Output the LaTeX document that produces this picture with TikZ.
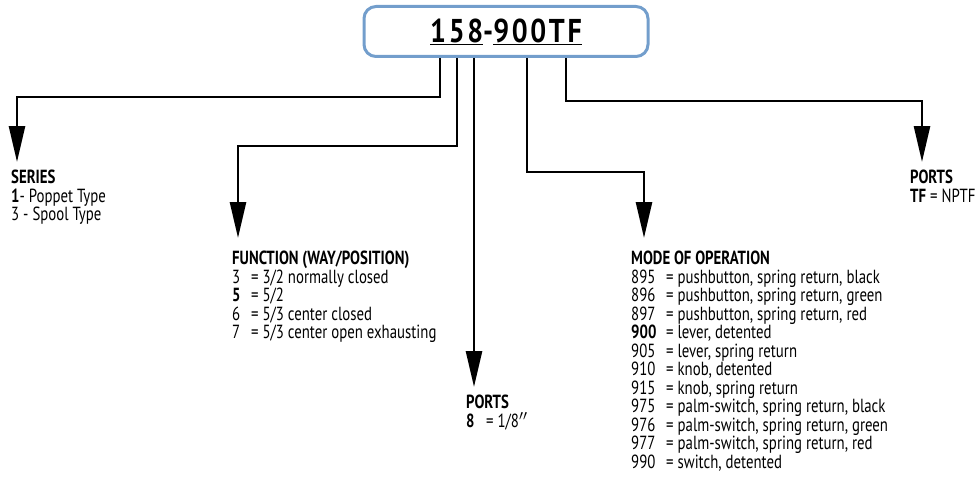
\documentclass[tikz,border=0pt]{standalone}
\usepackage{fontspec}
\setmainfont{PT Sans}[FakeStretch=0.78]
\newfontfamily\titlefont{PT Sans}[FakeStretch=0.85,LetterSpace=8]
\usetikzlibrary{arrows.meta}
\definecolor{boxblue}{RGB}{115,158,204}
\newcommand{\entry}[3]{\makebox[#1][l]{#2}= #3}

\begin{document}
\begin{tikzpicture}[x=1pt,y=-1pt,
  conn/.style={line width=2.6pt,-{Triangle[width=16pt,length=36pt]}},
  lbl/.style={anchor=north west,inner sep=0pt,align=left,font=\fontsize{19}{18.5}\selectfont}]
\useasboundingbox (0,0) rectangle (975,487);
% part number
\node[draw=boxblue,line width=3pt,rounded corners=12pt,minimum width=284pt,minimum height=50pt,
  font=\titlefont\bfseries\fontsize{33}{33}\selectfont] (title) at (506,31.5)
  {\underline{158}-\underline{900TF}};
% labels
\node[lbl] (series) at (11,170) {\textbf{SERIES}\\\textbf{1}- Poppet Type\\3 - Spool Type};
\node[lbl] (func) at (232,251) {\textbf{FUNCTION (WAY/POSITION)}\\
  \entry{19pt}{3}{3/2 normally closed}\\
  \entry{19pt}{\textbf{5}}{5/2}\\
  \entry{19pt}{6}{5/3 center closed}\\
  \entry{19pt}{7}{5/3 center open exhausting}};
\node[lbl] (portsA) at (466,395) {\textbf{PORTS}\\\entry{20pt}{\textbf{8}}{1/8$''$}};
\node[lbl] (mode) at (631,251) {\textbf{MODE OF OPERATION}\\
  \entry{35pt}{895}{pushbutton, spring return, black}\\
  \entry{35pt}{896}{pushbutton, spring return, green}\\
  \entry{35pt}{897}{pushbutton, spring return, red}\\
  \entry{35pt}{\textbf{900}}{lever, detented}\\
  \entry{35pt}{905}{lever, spring return}\\
  \entry{35pt}{910}{knob, detented}\\
  \entry{35pt}{915}{knob, spring return}\\
  \entry{35pt}{975}{palm-switch, spring return, black}\\
  \entry{35pt}{976}{palm-switch, spring return, green}\\
  \entry{35pt}{977}{palm-switch, spring return, red}\\
  \entry{35pt}{990}{switch, detented}};
\node[lbl] (portsB) at (910,170) {\textbf{PORTS}\\\textbf{TF} = NPTF};
% start and end points
\coordinate (s1) at (440,58);
\coordinate (s2) at (457,58);
\coordinate (s3) at (474,58);
\coordinate (s4) at (527,58);
\coordinate (s5) at (566,58);
\coordinate (t1) at (17,162);
\coordinate (t2) at (238,238);
\coordinate (t3) at (474,387);
\coordinate (t4) at (644,238);
\coordinate (t5) at (922,162);
\draw[conn] (s1) -- (s1 |- 0,97) -| (t1);
\draw[conn] (s2) -- (s2 |- 0,146) -| (t2);
\draw[conn] (s3) -- (t3);
\draw[conn] (s4) -- (s4 |- 0,172) -| (t4);
\draw[conn] (s5) -- (s5 |- 0,101) -| (t5);
\end{tikzpicture}
\end{document}
